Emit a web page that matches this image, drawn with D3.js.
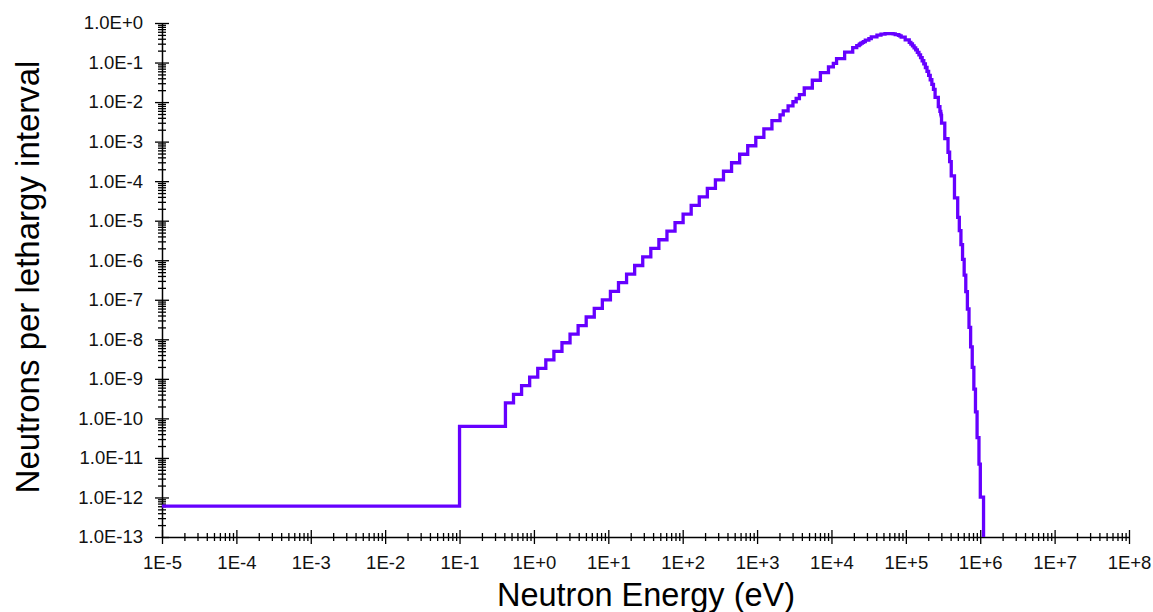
<!DOCTYPE html>
<html>
<head>
<meta charset="utf-8">
<script src="https://cdn.jsdelivr.net/npm/d3@7"></script>
<style>
  html, body { margin: 0; padding: 0; background: #fff; }
  svg { display: block; }
  .tick text { font-family: "Liberation Sans", Arial, sans-serif; }
</style>
</head>
<body>
<svg id="chart" width="1153" height="612"></svg>
<script>
// Group boundaries (eV), lowest to highest
const groupEdges = [
  1e-5, 0.1,
  0.41399, 0.53158, 0.68256, 0.87642, 1.1254, 1.4450, 1.8554, 2.3824, 3.0590, 3.9279,
  5.0435, 6.4760, 8.3153, 10.677, 13.710, 17.603, 22.603, 29.023, 37.267, 47.851,
  61.442, 78.893, 101.30, 130.07, 167.02, 214.45, 275.36, 353.57, 454.00, 582.95,
  748.52, 961.12, 1234.1, 1584.6, 2034.7,
  2248.7, 2612.6, 3035.4, 3354.6, 3707.4, 4307.4, 5530.8, 7101.7, 9118.8, 10595,
  11709, 15034, 19305, 21875, 23579, 24176, 24788, 26058, 27000, 28501,
  31828, 34307, 40868, 46309, 52475, 56562, 67379, 71998, 79499, 82503,
  86517, 98037, 111090, 116790, 122770, 129070, 135690, 142640, 149960, 157640,
  165730, 174220, 183160, 192550, 202420, 212800, 223710, 235180, 247240, 273240,
  287250, 294520, 297200, 298500, 301970, 333730, 368830, 387740, 407620, 450490,
  497870, 523400, 550230, 578440, 608100, 639280, 672060, 706510, 742740, 780820,
  820850, 862940, 907180, 961640, 1002600, 1108000, 1164800
];

// Neutrons per lethargy interval in each group
const groupFlux = [
  6.03e-13, 6.31e-11,
  2.47e-10, 4.07e-10, 6.72e-10, 1.11e-9, 1.83e-9, 3.01e-9, 4.96e-9, 8.18e-9, 1.35e-8, 2.22e-8,
  3.67e-8, 6.05e-8, 9.97e-8, 1.64e-7, 2.71e-7, 4.47e-7, 7.36e-7, 1.21e-6, 2.00e-6, 3.30e-6,
  5.44e-6, 8.95e-6, 1.47e-5, 2.43e-5, 4.00e-5, 6.58e-5, 1.08e-4, 1.78e-4, 2.92e-4, 4.79e-4,
  7.85e-4, 1.28e-3, 2.10e-3, 3.41e-3,
  4.73e-3, 6.02e-3, 8.02e-3, 1.02e-2, 1.23e-2, 1.55e-2, 2.27e-2, 3.57e-2, 5.55e-2, 7.74e-2,
  9.51e-2, 0.126, 0.184, 0.237, 0.269, 0.286, 0.294, 0.308, 0.323, 0.339,
  0.369, 0.403, 0.447, 0.493, 0.522, 0.536, 0.541, 0.529, 0.511, 0.490,
  0.475, 0.438, 0.373, 0.324, 0.294, 0.265, 0.236, 0.208, 0.181, 0.156,
  0.133, 0.111, 0.0920, 0.0749, 0.0601, 0.0474, 0.0367, 0.0279, 0.0209, 0.0132,
  7.67e-3, 5.79e-3, 5.07e-3, 4.81e-3, 4.51e-3, 2.93e-3, 1.19e-3, 5.39e-4, 3.13e-4, 1.36e-4,
  3.76e-5, 1.21e-5, 5.59e-6, 2.48e-6, 1.05e-6, 4.22e-7, 1.61e-7, 5.84e-8, 2.00e-8, 6.44e-9,
  1.95e-9, 5.52e-10, 1.46e-10, 3.28e-11, 6.99e-12, 1.02e-12, 5.1e-14
];

// Axis ticks and their labels
const xTickValues = [1e-5, 1e-4, 1e-3, 1e-2, 1e-1, 1e0, 1e1, 1e2, 1e3, 1e4, 1e5, 1e6, 1e7, 1e8];
const xTickLabels = ["1E-5", "1E-4", "1E-3", "1E-2", "1E-1", "1E+0", "1E+1", "1E+2",
                     "1E+3", "1E+4", "1E+5", "1E+6", "1E+7", "1E+8"];
const yTickValues = [1e0, 1e-1, 1e-2, 1e-3, 1e-4, 1e-5, 1e-6, 1e-7, 1e-8, 1e-9, 1e-10,
                     1e-11, 1e-12, 1e-13];
const yTickLabels = ["1.0E+0", "1.0E-1", "1.0E-2", "1.0E-3", "1.0E-4", "1.0E-5", "1.0E-6",
                     "1.0E-7", "1.0E-8", "1.0E-9", "1.0E-10", "1.0E-11", "1.0E-12", "1.0E-13"];

const xTitle = "Neutron Energy (eV)";
const yTitle = "Neutrons per lethargy interval";

const svg = d3.select("#chart");
svg.append("rect").attr("width", 1153).attr("height", 612).attr("fill", "#fff");

const x = d3.scaleLog().domain([1e-5, 1e8]).range([162, 1129]);
const y = d3.scaleLog().domain([1e-13, 1]).range([537, 23]);

// minor ticks: 2..9 within every decade
function minorTicks(lo, hi) {
  const out = [];
  for (let e = Math.round(Math.log10(lo)); e < Math.round(Math.log10(hi)); e++) {
    for (let m = 2; m <= 9; m++) out.push(m * Math.pow(10, e));
  }
  return out;
}
const xMinor = minorTicks(1e-5, 1e8);
const yMinor = minorTicks(1e-13, 1);

const axisColor = "#000";
function styleAxis(g, width) {
  g.selectAll("path.domain").attr("stroke", axisColor).attr("stroke-width", width);
  g.selectAll(".tick line").attr("stroke", axisColor).attr("stroke-width", 1.3);
}

// ---- X axis ----
const xAxisG = svg.append("g").attr("transform", "translate(0,537)");
xAxisG.append("g")
  .call(d3.axisBottom(x).tickValues(xMinor).tickSizeInner(4).tickSizeOuter(0).tickFormat(""))
  .call(g => { g.select(".domain").remove(); styleAxis(g, 1.5); });
xAxisG.append("g")
  .call(d3.axisTop(x).tickValues(xMinor).tickSizeInner(4).tickSizeOuter(0).tickFormat(""))
  .call(g => { g.select(".domain").remove(); styleAxis(g, 1.5); });
xAxisG.append("g")
  .call(d3.axisTop(x).tickValues(xTickValues).tickSizeInner(7).tickSizeOuter(0).tickFormat(""))
  .call(g => { g.select(".domain").remove(); styleAxis(g, 1.5); });
xAxisG.append("g")
  .call(d3.axisBottom(x).tickValues(xTickValues).tickSizeInner(7).tickSizeOuter(0)
    .tickPadding(12).tickFormat((d, i) => xTickLabels[i]))
  .call(g => {
    styleAxis(g, 1.5);
    g.selectAll(".tick text").attr("font-size", 18.5).attr("fill", "#111");
  });

// ---- Y axis ----
const yAxisG = svg.append("g").attr("transform", "translate(162,0)");
yAxisG.append("g")
  .call(d3.axisLeft(y).tickValues(yMinor).tickSizeInner(4).tickSizeOuter(0).tickFormat(""))
  .call(g => { g.select(".domain").remove(); styleAxis(g, 1.5); });
yAxisG.append("g")
  .call(d3.axisRight(y).tickValues(yMinor).tickSizeInner(4).tickSizeOuter(0).tickFormat(""))
  .call(g => { g.select(".domain").remove(); styleAxis(g, 1.5); });
yAxisG.append("g")
  .call(d3.axisRight(y).tickValues(yTickValues).tickSizeInner(7).tickSizeOuter(0).tickFormat(""))
  .call(g => { g.select(".domain").remove(); styleAxis(g, 1.5); });
yAxisG.append("g")
  .call(d3.axisLeft(y).tickValues(yTickValues).tickSizeInner(7).tickSizeOuter(0)
    .tickPadding(12).tickFormat((d, i) => yTickLabels[i]))
  .call(g => {
    styleAxis(g, 1.5);
    g.selectAll(".tick text").attr("font-size", 18.5).attr("fill", "#111");
  });

// ---- Titles ----
svg.append("text")
  .attr("x", 646).attr("y", 606)
  .attr("text-anchor", "middle")
  .attr("font-family", "Liberation Sans, Arial, sans-serif")
  .attr("font-size", 32.5)
  .attr("fill", "#000")
  .text(xTitle);

svg.append("text")
  .attr("transform", "translate(39,277) rotate(-90)")
  .attr("text-anchor", "middle")
  .attr("font-family", "Liberation Sans, Arial, sans-serif")
  .attr("font-size", 33)
  .attr("fill", "#000")
  .text(yTitle);

// ---- Spectrum as a group-wise step line ----
svg.append("clipPath").attr("id", "plotClip")
  .append("rect")
  .attr("x", x.range()[0]).attr("y", 0)
  .attr("width", x.range()[1] - x.range()[0])
  .attr("height", y.range()[0]);

const n = Math.min(groupFlux.length, groupEdges.length - 1);
const pts = [];
for (let i = 0; i < n; i++) pts.push([groupEdges[i], groupFlux[i]]);
pts.push([groupEdges[n], groupFlux[n - 1]]);

const stepLine = d3.line()
  .x(d => x(d[0]))
  .y(d => y(d[1]))
  .curve(d3.curveStepAfter);

svg.append("path")
  .datum(pts)
  .attr("clip-path", "url(#plotClip)")
  .attr("d", stepLine)
  .attr("fill", "none")
  .attr("stroke", "#6600ff")
  .attr("stroke-width", 3.3)
  .attr("stroke-linejoin", "miter");
</script>
</body>
</html>
